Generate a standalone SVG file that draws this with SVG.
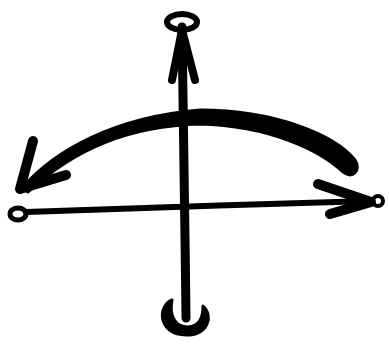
<svg xmlns="http://www.w3.org/2000/svg" width="389" height="347" viewBox="0 0 389 347">
<style>
.s{fill:none;stroke:#000;stroke-linecap:round;stroke-linejoin:round}
.f{fill:#000;stroke:#000;stroke-linejoin:round}
</style>
<rect width="389" height="347" fill="#fff"/>
<!-- vertical axis -->
<path class="s" stroke-width="9" d="M182,27 C183,120 185,220 186,318"/>
<ellipse cx="182" cy="22" rx="15" ry="8" class="s" stroke-width="6"/>
<path class="s" stroke-width="8" d="M172,80 L182,30 L195,80"/>
<path class="f" stroke-width="3" d="M172,300 C157,306 158,335 186,335 C208,335 214,316 203,306 C203,320 198,326 188,327 C175,327 169,316 172,300 Z"/>
<!-- horizontal axis -->
<path class="s" stroke-width="6" d="M26,212 C130,208 260,204 370,201"/>
<ellipse cx="18" cy="214" rx="8" ry="6" class="s" stroke-width="5"/>
<circle cx="378" cy="201" r="5" class="s" stroke-width="4"/>
<path class="s" stroke-width="10" d="M318,184 L371,202 L330,214"/>
<!-- arc -->
<path class="f" stroke-width="3" d="M22,188 C55,150 115,117 200,110 C275,110 335,135 355,160 C362,170 352,180 343,172 C320,150 270,126 200,124 C130,126 75,148 28,192 Z"/>
<path class="s" stroke-width="10" d="M33,141 L20,189 L66,175"/>
</svg>
